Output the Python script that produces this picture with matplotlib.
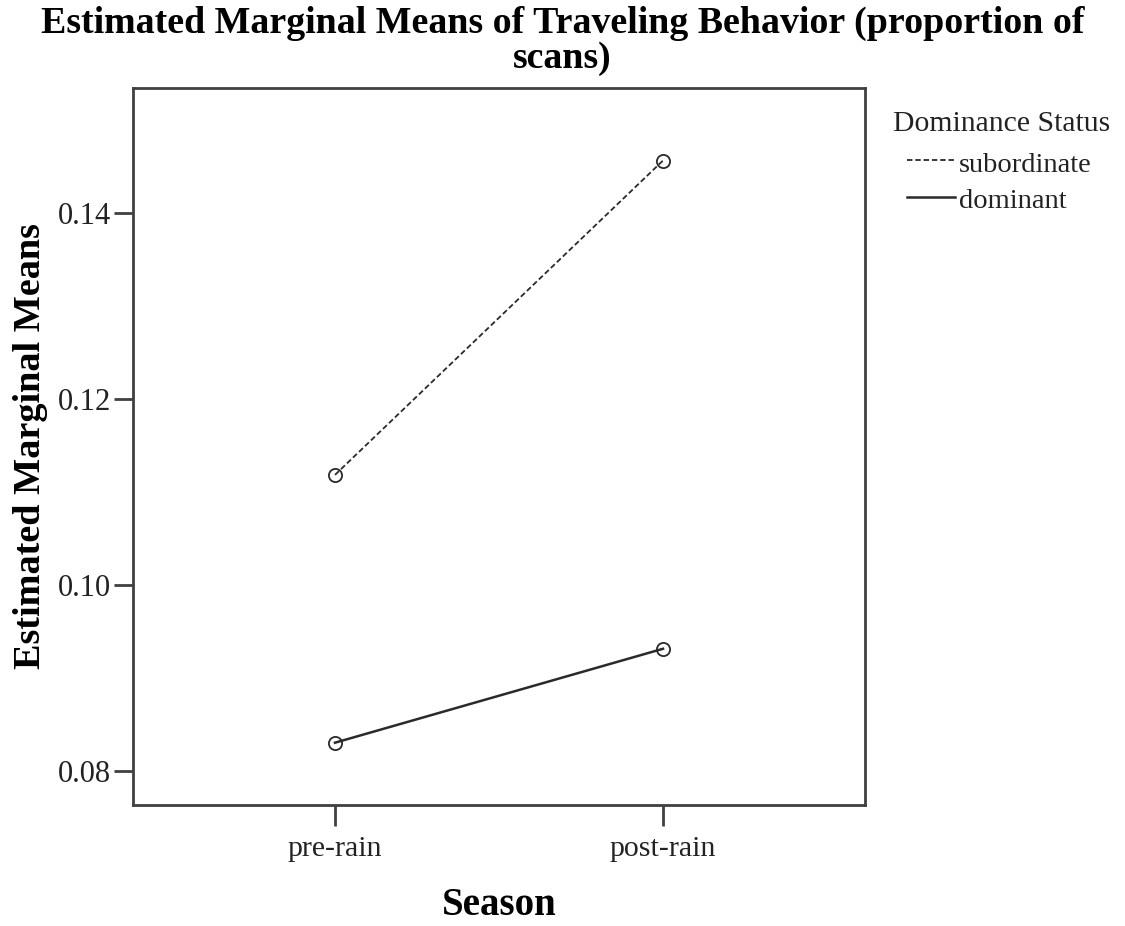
import matplotlib
matplotlib.use("Agg")
import matplotlib.pyplot as plt
from matplotlib.lines import Line2D

plt.rcParams['font.family'] = ['Liberation Serif', 'DejaVu Serif']

seasons = ["pre-rain", "post-rain"]
groups = ["subordinate", "dominant"]
subordinate = [0.1118, 0.1456]
dominant = [0.0830, 0.0931]
yticks = [0.08, 0.10, 0.12, 0.14]
ytick_labels = ["0.08", "0.10", "0.12", "0.14"]

W, H = 1125, 926
fig = plt.figure(figsize=(W/100, H/100), dpi=100)
ax = fig.add_axes([133/W, 1-805/H, (865-133)/W, (805-88)/H])

x = list(range(len(seasons)))
line_col = "#2a2a2a"
dash = (0, (3, 1.6))
ax.plot(x, subordinate, linestyle=dash, color=line_col, lw=1.3,
        marker='o', markersize=9.5, markerfacecolor='none', markeredgecolor=line_col,
        markeredgewidth=1.3, label=groups[0])
ax.plot(x, dominant, linestyle='-', color=line_col, lw=1.8,
        marker='o', markersize=9.5, markerfacecolor='none', markeredgecolor=line_col,
        markeredgewidth=1.3, label=groups[1])

ax.set_xlim(-202/328, 1 + 202/328)
ax.set_ylim(0.0763, 0.1534)
ax.set_xticks(x)
ax.set_xticklabels(seasons)
ax.set_yticks(yticks)
ax.set_yticklabels(ytick_labels)

frame_col = "#404040"
for s in ax.spines.values():
    s.set_color(frame_col)
    s.set_linewidth(2)
ax.tick_params(axis='both', direction='out', length=14, width=2, color=frame_col,
               labelcolor="#222222", pad=2)
ax.tick_params(axis='y', labelsize=22)
ax.tick_params(axis='x', labelsize=21.5, length=15, pad=7)

ax.set_xlabel("Season", fontsize=28, fontweight='bold', labelpad=18)
ax.set_ylabel("Estimated Marginal Means", fontsize=27.5, fontweight='bold', labelpad=7)

# title (two lines as in the reference)
fig.text(0.5, 1-33/H, "Estimated Marginal Means of Traveling Behavior (proportion of",
         ha='center', va='baseline', fontsize=27.3, fontweight='bold')
fig.text(0.5, 1-68/H, "scans)", ha='center', va='baseline', fontsize=27.3, fontweight='bold')

# legend
fig.text(893/W, 1-131/H, "Dominance Status", ha='left', va='baseline', fontsize=21.4,
         color="#222222")
legend_y_line = [160, 197]
legend_y_text = [172, 208]
styles = [dict(linestyle=dash, lw=1.3), dict(linestyle='-', lw=1.8)]
for g, yl, yt, st in zip(groups, legend_y_line, legend_y_text, styles):
    fig.add_artist(Line2D([907/W, 955/W], [1-yl/H, 1-yl/H], transform=fig.transFigure,
                          color=line_col, **st))
    fig.text(959/W, 1-yt/H, g, ha='left', va='baseline', fontsize=20.5, color="#222222")

fig.savefig("out.png", dpi=100)
